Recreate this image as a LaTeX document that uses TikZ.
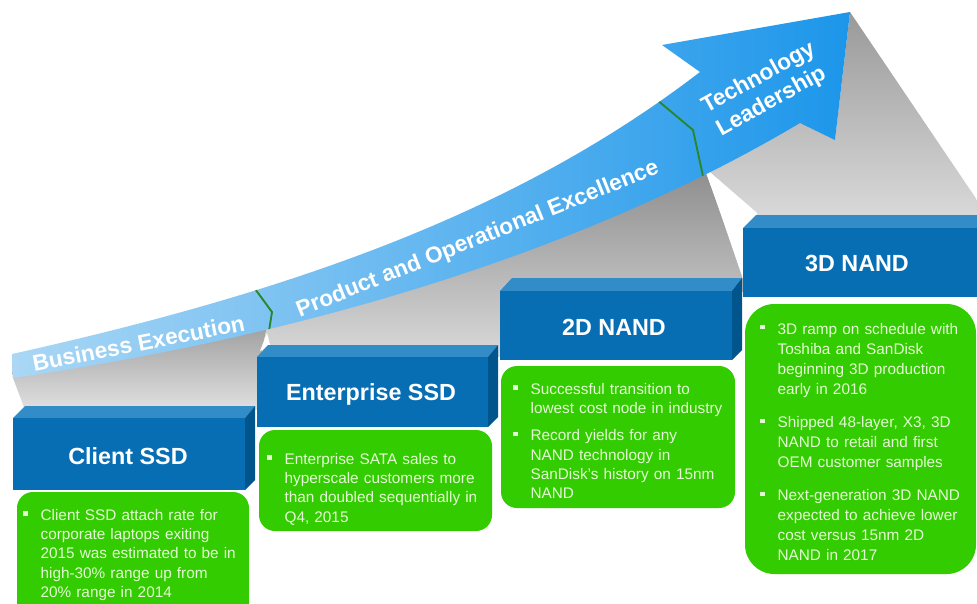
\documentclass[tikz,border=0pt]{standalone}
\usepackage{fontspec}
\setmainfont{Liberation Sans}
\definecolor{frontblue}{RGB}{8,110,180}
\definecolor{topblue}{RGB}{50,140,200}
\definecolor{sideblue}{RGB}{0,86,140}
\definecolor{leafgreen}{RGB}{51,204,0}
\definecolor{notegreen}{RGB}{228,250,214}
\definecolor{ribbonlight}{RGB}{170,215,245}
\definecolor{ribbondark}{RGB}{28,150,234}
\definecolor{seam}{RGB}{40,135,40}
% one bullet point, optional space above it
\newcommand\bitem[2][0pt]{\par\vspace{#1}\hangindent=13pt\hangafter=1\noindent
  \makebox[13pt][l]{\raisebox{3.6pt}{\rule{3.2pt}{3.2pt}}}#2\par}
\begin{document}
\begin{tikzpicture}[x=0.75pt,y=-0.75pt,
  title/.style={text=white,font=\fontsize{17.5}{21}\selectfont\bfseries,anchor=base},
  band/.style={text=white,font=\fontsize{17}{20}\selectfont\bfseries},
  note/.style={anchor=north west,inner sep=0pt,text=notegreen,text width=190pt,
    font=\fontsize{11.5}{14.4}\selectfont},
  card/.style={fill=leafgreen,rounded corners=12pt}]
\useasboundingbox (0,0) rectangle (977,603);
% shadows under the ribbon
\shade[top color=black!42,bottom color=black!12] (12,365) -- (13,378) -- (25,410) -- (262,410)
  -- (262,350) -- (268,322) -- (255,310) -- cycle;
\shade[top color=black!45,bottom color=black!15] (268,322) -- (480,245) -- (703,165) -- (745,280)
  -- (745,292) -- (500,292) -- (500,357) -- (262,350) -- cycle;
\shade[top color=black!40,bottom color=black!12] (700,160) -- (800,118) -- (835,140) -- (850,12)
  -- (977,200) -- (977,240) -- (757,240) -- (757,213) -- (705,168) -- cycle;
\fill[white] (705,168) -- (757,213) -- (743,227) -- (743,279) -- cycle;
\fill[white] (267,333) -- (270,345) -- (260,351) -- cycle;
% ribbon
\shade[left color=ribbonlight,right color=ribbondark] (12,354) .. controls (300,290) and (520,210) .. (700,72)
  -- (662,45) -- (850,12) -- (835,140) -- (800,123) .. controls (600,242) and (330,332) .. (13,378) -- cycle;
\begin{scope}
\clip (12,354) .. controls (300,290) and (520,210) .. (700,72)
  -- (662,45) -- (850,12) -- (835,140) -- (800,123) .. controls (600,242) and (330,332) .. (13,378) -- cycle;
\draw[seam,line width=1.4pt] (250,282) -- (272,312) -- (266,350);
\draw[seam,line width=1.4pt] (650,94) -- (693,130) -- (706,190);
\end{scope}
\node[band,anchor=base,rotate=11] (execution) at (140,351) {Business Execution};
\node[band,anchor=base,rotate=21.8] (excellence) at (480,245) {Product and Operational Excellence};
\node[band,align=center,rotate=29] (leadership) at (765,90) {Technology\\Leadership};
% Client SSD
\fill[topblue] (13,418) -- (25,406) -- (255,406) -- (245,418) -- cycle;
\fill[sideblue] (245,418) -- (255,406) -- (255,480) -- (245,490) -- cycle;
\fill[frontblue] (13,418) rectangle (245,490);
\node[title] (client) at (128,464) {Client SSD};
% Enterprise SSD
\fill[topblue] (257,357) -- (268,345) -- (498,345) -- (488,357) -- cycle;
\fill[sideblue] (488,357) -- (498,345) -- (498,417) -- (488,427) -- cycle;
\fill[frontblue] (257,357) rectangle (488,427);
\node[title] (enterprise) at (371,400) {Enterprise SSD};
% 2D NAND
\fill[topblue] (500,291) -- (512,278) -- (742,278) -- (732,291) -- cycle;
\fill[sideblue] (732,291) -- (742,278) -- (742,350) -- (732,360) -- cycle;
\fill[frontblue] (500,291) rectangle (732,360);
\node[title] (planar) at (614,335) {2D NAND};
% 3D NAND
\fill[topblue] (743,228) -- (756,215) -- (977,215) -- (977,228) -- cycle;
\fill[frontblue] (743,228) rectangle (977,297);
\node[title] (vnand) at (857,271) {3D NAND};
% green notes
\fill[card] (17,492) rectangle (249,625);
\fill[card] (259,430) rectangle (492,531);
\fill[card] (501,366) rectangle (735,508);
\fill[card,rounded corners=22pt] (745,304) rectangle (976,574);
\node[note] (clientnote) at (23,501) {\bitem{Client SSD attach rate for\newline
  corporate laptops exiting\newline 2015 was estimated to be in\newline
  high-30\% range up from\newline 20\% range in 2014}};
\node[note] (enterprisenote) at (267,445) {\bitem{Enterprise SATA sales to\newline
  hyperscale customers more\newline than doubled sequentially in\newline Q4, 2015}};
\node[note] (planarnote) at (513,375) {\bitem{Successful transition to\newline lowest cost node in industry}
  \bitem[6pt]{Record yields for any\newline NAND technology in\newline
  SanDisk's history on 15nm\newline NAND}};
\node[note,font=\fontsize{11.5}{15}\selectfont] (vnandnote) at (760,314) {\bitem{3D ramp on schedule with\newline
  Toshiba and SanDisk\newline beginning 3D production\newline early in 2016}
  \bitem[10pt]{Shipped 48-layer, X3, 3D\newline NAND to retail and first\newline OEM customer samples}
  \bitem[10pt]{Next-generation 3D NAND\newline expected to achieve lower\newline
  cost versus 15nm 2D\newline NAND in 2017}};
\end{tikzpicture}
\end{document}
